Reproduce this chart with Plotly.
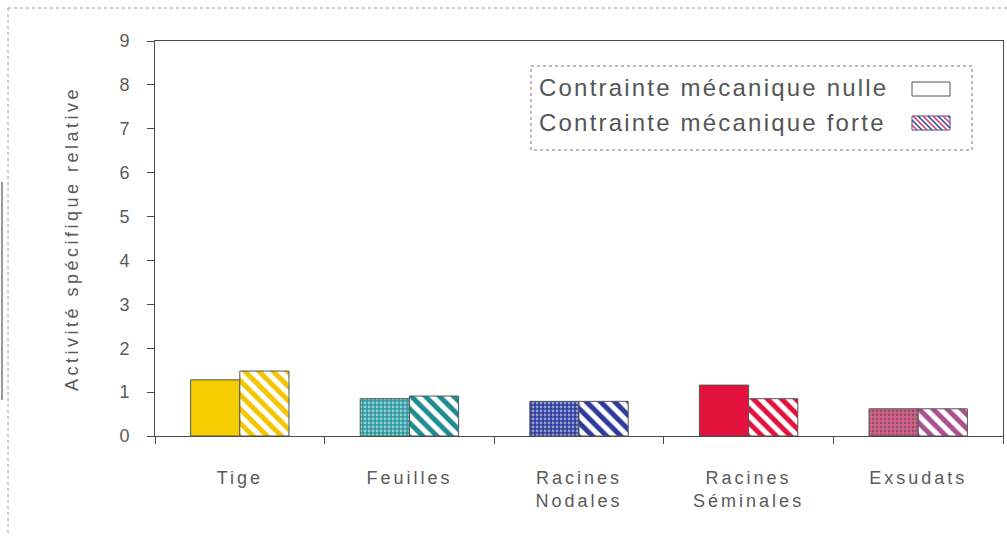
import plotly.graph_objects as go

# Categories and series values
categories = ["Tige", "Feuilles", "Racines<br>Nodales", "Racines<br>Séminales", "Exsudats"]
nulle = [1.28, 0.85, 0.79, 1.16, 0.62]
forte = [1.48, 0.91, 0.79, 0.85, 0.62]
y_ticks = list(range(0, 10))

serie_nulle = "Contrainte mécanique nulle"
serie_forte = "Contrainte mécanique forte"
y_title = "Activité spécifique relative"

# One colour per organ
base_colors = ["#f6cd00", "#2a9aa0", "#2c3c9c", "#e2123c", "#d9628c"]
stipple_shape = ["", ".", ".", "", "."]
stipple_fg = ["#f6cd00", "#15606a", "#9aa6e0", "#e2123c", "#3a4aa0"]
hatch_colors = ["#f2c600", "#1f8c94", "#2c3c9c", "#e2123c", "#a85090"]

TEXT = "#5a5a5a"
AXIS = "#4a4a4a"
FONT = "Liberation Sans, Arial, sans-serif"

fig = go.Figure()
fig.add_trace(go.Bar(
    x=categories, y=nulle, name=serie_nulle, showlegend=False,
    marker=dict(
        color=base_colors,
        line=dict(color="#555555", width=1),
        pattern=dict(shape=stipple_shape, fgcolor=stipple_fg,
                     size=4, solidity=0.4, fillmode="overlay"),
    ),
))
fig.add_trace(go.Bar(
    x=categories, y=forte, name=serie_forte, showlegend=False,
    marker=dict(
        color="white",
        line=dict(color="#555555", width=1),
        pattern=dict(shape="\\", fgcolor=hatch_colors, bgcolor="white",
                     size=10, solidity=0.5, fillmode="replace"),
    ),
))

# Plot area in pixels
L, R, T, B = 155, 1003, 41, 436
W, H = 1007, 536


def px(x):
    return (x - L) / (R - L)


def py(y):
    return (B - y) / (B - T)


shapes = []
# Outer sheet border
shapes.append(dict(type="line", xref="paper", yref="paper", x0=px(8), x1=px(1007), y0=py(8), y1=py(8),
                   line=dict(color="#9a9a9a", width=1, dash="dot")))
shapes.append(dict(type="line", xref="paper", yref="paper", x0=px(8), x1=px(8), y0=py(8), y1=py(536),
                   line=dict(color="#9a9a9a", width=1, dash="dot")))
shapes.append(dict(type="line", xref="paper", yref="paper", x0=px(2), x1=px(2), y0=py(182), y1=py(400),
                   line=dict(color="#777777", width=1.5)))

# Legend frame
shapes.append(dict(type="rect", xref="paper", yref="paper", x0=px(531), x1=px(972), y0=py(66), y1=py(150),
                   line=dict(color="#8a6a78", width=1, dash="dot"), fillcolor="white"))
# Legend swatches
sx0, sx1 = 912, 950
r1 = (82, 96)
r2 = (116, 130)
shapes.append(dict(type="rect", xref="paper", yref="paper", x0=px(sx0), x1=px(sx1), y0=py(r1[0]), y1=py(r1[1]),
                   line=dict(color="#555555", width=1)))
shapes.append(dict(type="rect", xref="paper", yref="paper", x0=px(sx0), x1=px(sx1), y0=py(r2[0]), y1=py(r2[1]),
                   line=dict(color="#4a4a8a", width=1)))
# Diagonal hatching inside the second swatch
h = r2[1] - r2[0]
step = 5
k = 0
start = sx0 - h
while start < sx1:
    ax, ay = start, r2[0]
    bx, by = start + h, r2[1]
    if ax < sx0:
        ay = r2[0] + (sx0 - ax)
        ax = sx0
    if bx > sx1:
        by = r2[1] - (bx - sx1)
        bx = sx1
    if bx > ax:
        shapes.append(dict(type="line", xref="paper", yref="paper", x0=px(ax), y0=py(ay), x1=px(bx), y1=py(by),
                           line=dict(color="#3848a0" if k % 2 == 0 else "#d83a6a", width=1.6)))
    k += 1
    start += step

annotations = [
    dict(xref="paper", yref="paper", x=px(537), y=py(88), xanchor="left", yanchor="middle", align="left",
         text=serie_nulle, showarrow=False, font=dict(family=FONT, size=24, color="#555555")),
    dict(xref="paper", yref="paper", x=px(537), y=py(122), xanchor="left", yanchor="middle", align="left",
         text=serie_forte, showarrow=False, font=dict(family=FONT, size=24, color="#555555")),
]

fig.update_layout(
    width=W, height=H,
    margin=dict(l=L, r=W - R, t=T, b=H - B),
    paper_bgcolor="white", plot_bgcolor="white",
    barmode="group", bargap=0.42, bargroupgap=0,
    font=dict(family=FONT, color=TEXT),
    shapes=shapes, annotations=annotations,
    xaxis=dict(
        type="category", tickson="boundaries", ticks="outside", ticklen=7, tickcolor=AXIS,
        showline=True, linecolor=AXIS, linewidth=1, mirror=True, showgrid=False,
        tickfont=dict(family=FONT, size=18, color=TEXT), ticklabelstandoff=25,
    ),
    yaxis=dict(
        range=[0, 9], tickvals=y_ticks, ticks="outside", ticklen=7, tickcolor=AXIS,
        showline=True, linecolor=AXIS, linewidth=1, mirror=True, showgrid=False, zeroline=False,
        tickfont=dict(family=FONT, size=18, color=TEXT), ticklabelstandoff=14,
        title=dict(text=y_title, standoff=36, font=dict(family=FONT, size=18, color=TEXT)),
        automargin=False,
    ),
    xaxis2=dict(
        overlaying="x", anchor="y", range=[-0.5, 4.5], tickvals=[i - 0.5 for i in range(6)],
        ticks="inside", ticklen=6, tickcolor=AXIS, showticklabels=False, showline=False,
        showgrid=False, zeroline=False,
    ),
    yaxis2=dict(
        overlaying="y", anchor="x", side="left", range=[0, 9], tickvals=y_ticks,
        ticks="inside", ticklen=7, tickcolor=AXIS, showticklabels=False, showline=False,
        showgrid=False, zeroline=False,
    ),
)
fig.update_xaxes(automargin=False)

# Wide typewriter-like letter spacing of the labels
spacing_css = (".xtick text{letter-spacing:3px}"
               " text.ytitle{letter-spacing:3.5px}"
               " text.annotation-text{letter-spacing:2.2px}")
post = ("var s=document.createElement('style');s.textContent='" + spacing_css +
        "';document.head.appendChild(s);")

fig.write_html("out.html", post_script=post)
